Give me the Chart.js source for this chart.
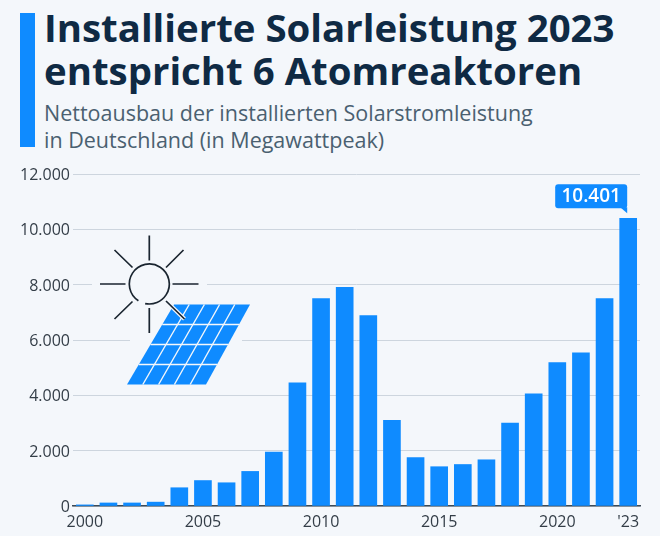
<!DOCTYPE html>
<html lang="de">
<head>
<meta charset="utf-8">
<title>Installierte Solarleistung 2023</title>
<script src="https://cdn.jsdelivr.net/npm/chart.js@4"></script>
<style>
    html, body { margin: 0; padding: 0; background: #f4f7fb; }
    body { width: 660px; height: 536px; position: relative; overflow: hidden; font-family: "Open Sans", sans-serif; }
    #accent { position: absolute; left: 20px; top: 13px; width: 15px; height: 134px; background: #0f8bff; }
    #title { position: absolute; left: 44px; top: 6px; margin: 0; font-size: 38.4px; line-height: 43px; font-weight: 700; color: #0f2a44; white-space: nowrap; }
    #subtitle { position: absolute; left: 44px; top: 99px; margin: 0; font-size: 21.5px; line-height: 27px; font-weight: 400; color: #4a6070; white-space: nowrap; }
    #chart { position: absolute; left: 0; top: 0; }
</style>
</head>
<body>
<div id="accent"></div>
<h1 id="title">Installierte Solarleistung 2023<br>entspricht 6 Atomreaktoren</h1>
<p id="subtitle">Nettoausbau der installierten Solarstromleistung<br>in Deutschland (in Megawattpeak)</p>
<canvas id="chart" width="660" height="536"></canvas>
<script>
const YEARS = ['2000', '2001', '2002', '2003', '2004', '2005', '2006', '2007', '2008', '2009', '2010', '2011',
    '2012', '2013', '2014', '2015', '2016', '2017', '2018', '2019', '2020', '2021', '2022', '2023'];
const NET_ADDITIONS = [40, 110, 110, 140, 660, 920, 840, 1250, 1950, 4450, 7500, 7900,
    6880, 3100, 1750, 1420, 1500, 1670, 3000, 4050, 5180, 5540, 7500, 10401];
const X_TICK_LABELS = { '2000': '2000', '2005': '2005', '2010': '2010', '2015': '2015', '2020': '2020', '2023': "'23" };
const Y_MAX = 12000;
const Y_STEP = 2000;

const BLUE = '#0f8bff';
const BG = '#f4f7fb';
const TICK_FONT = { family: '"Open Sans", sans-serif', size: 16 };

const fmt = v => String(v).replace(/\B(?=(\d{3})+$)/g, '.');

/* Sun and solar panel illustration, plus the gaps it cuts in the grid */
const iconPlugin = {
    id: 'icon',
    afterDatasetsDraw(chart) {
        const c = chart.ctx;
        c.save();
        c.fillStyle = BG;
        c.fillRect(92, 280, 115, 8);
        c.fillRect(130, 335, 112, 8);

        // panel
        const tl = [174, 304.5], tr = [250, 304.5], bl = [127, 384.5], br = [206, 384.5];
        c.fillStyle = BLUE;
        c.beginPath();
        c.moveTo(...tl); c.lineTo(...tr); c.lineTo(...br); c.lineTo(...bl);
        c.closePath();
        c.fill();
        c.strokeStyle = '#f4f7fb';
        c.lineWidth = 1.4;
        for (let i = 1; i < 4; i++) {
            const t = i / 4;
            c.beginPath();
            c.moveTo(tl[0] + (bl[0] - tl[0]) * t, tl[1] + (bl[1] - tl[1]) * t);
            c.lineTo(tr[0] + (br[0] - tr[0]) * t, tr[1] + (br[1] - tr[1]) * t);
            c.stroke();
        }
        for (let i = 1; i < 5; i++) {
            const t = i / 5;
            c.beginPath();
            c.moveTo(tl[0] + (tr[0] - tl[0]) * t, tl[1]);
            c.lineTo(bl[0] + (br[0] - bl[0]) * t, bl[1]);
            c.stroke();
        }

        // sun
        const rays = [
            [149.3, 235.5, 149.3, 260.5], [172.5, 284, 198.5, 284], [100, 284, 125.5, 284], [149.3, 308, 149.3, 333],
            [166, 267.5, 183.5, 250], [132.5, 267.5, 114.5, 250], [132.5, 301.5, 114.5, 319]
        ];
        c.strokeStyle = BG;
        c.lineWidth = 4;
        c.beginPath();
        c.moveTo(166, 301);
        c.lineTo(184.5, 319);
        c.stroke();
        c.strokeStyle = '#1a2530';
        c.lineWidth = 1.7;
        c.beginPath();
        c.moveTo(166, 301);
        c.lineTo(184.5, 319);
        for (const r of rays) {
            c.moveTo(r[0], r[1]);
            c.lineTo(r[2], r[3]);
        }
        c.stroke();
        c.beginPath();
        c.arc(149.3, 284, 20, 123 * Math.PI / 180, (360 + 102) * Math.PI / 180);
        c.stroke();
        c.restore();
    }
};

/* Value callout on the last bar */
const calloutPlugin = {
    id: 'callout',
    afterDatasetsDraw(chart) {
        const last = NET_ADDITIONS.length - 1;
        const bar = chart.getDatasetMeta(0).data[last];
        const right = bar.x - 1, left = right - 72;
        const bottom = bar.y - 10, top = bottom - 24;
        const c = chart.ctx;
        c.save();
        c.fillStyle = BLUE;
        c.beginPath();
        c.roundRect(left, top, right - left, bottom - top, 3);
        c.fill();
        c.beginPath();
        c.moveTo(right - 7, bottom - 1);
        c.lineTo(right, bottom - 1);
        c.lineTo(right, bottom + 5);
        c.closePath();
        c.fill();
        c.fillStyle = '#ffffff';
        c.font = '600 19px "Open Sans", sans-serif';
        c.textAlign = 'center';
        c.textBaseline = 'middle';
        c.fillText(fmt(NET_ADDITIONS[last]), (left + right) / 2, (top + bottom) / 2 + 0.5);
        c.restore();
    }
};

new Chart(document.getElementById('chart'), {
    type: 'bar',
    data: {
        labels: YEARS,
        datasets: [{
            data: NET_ADDITIONS,
            backgroundColor: BLUE,
            barThickness: 17,
        }]
    },
    plugins: [iconPlugin, calloutPlugin],
    options: {
        animation: false,
        responsive: false,
        layout: { padding: { top: 174, right: 20, left: 0, bottom: 0 } },
        plugins: {
            legend: { display: false },
            tooltip: { enabled: false }
        },
        scales: {
            x: {
                afterFit(scale) { scale.height = 30; },
                grid: { display: false },
                border: { color: '#3c4a56', width: 1.5 },
                ticks: {
                    color: '#333d47',
                    font: TICK_FONT,
                    padding: -1,
                    autoSkip: false,
                    maxRotation: 0,
                    callback(value) { return X_TICK_LABELS[this.getLabelForValue(value)] || ''; }
                }
            },
            y: {
                min: 0,
                max: Y_MAX,
                afterFit(scale) { scale.width = 73; },
                grid: { color: '#cdd5de', lineWidth: 1, drawTicks: false },
                border: { display: false },
                ticks: {
                    stepSize: Y_STEP,
                    color: '#333d47',
                    font: TICK_FONT,
                    padding: 3,
                    labelOffset: 1.5,
                    callback: value => fmt(value)
                }
            }
        }
    }
});
</script>
</body>
</html>
